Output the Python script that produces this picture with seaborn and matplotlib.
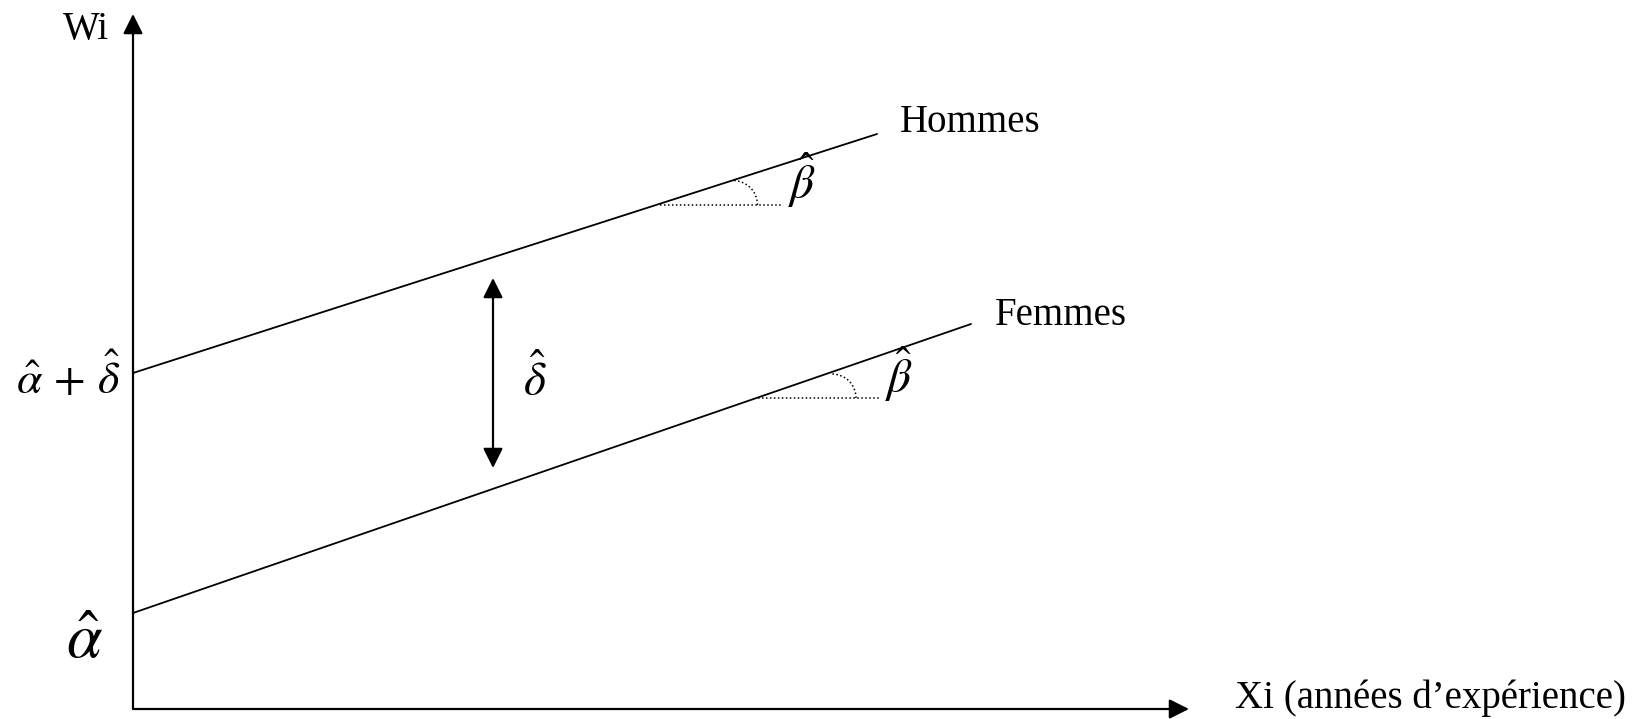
import numpy as np
import pandas as pd
import matplotlib
matplotlib.use("Agg")
import matplotlib.pyplot as plt
from matplotlib.patches import Arc
import seaborn as sns

# Droites estimées (x = années d'expérience, y = salaire), unités arbitraires
groupes = ["Hommes", "Femmes"]
x_debut = [0.0, 0.0]
x_fin = [7.44, 8.38]
y_debut = [3.36, 0.96]
y_fin = [5.75, 3.85]

# Angle beta : trait horizontal pointillé et centre de l'arc
beta_x0 = [5.27, 6.25]
beta_x1 = [6.50, 7.47]
beta_y = [5.04, 3.11]
arc_cx = [6.00, 6.99]
arc_r = [0.245, 0.24]

# Écart delta entre les deux droites
delta_x = 3.60
delta_bas = 2.41
delta_haut = 4.31

# Longueur des axes
axe_x_max = 10.56
axe_y_max = 6.95

sns.set_theme(style="white")
plt.rcParams["font.family"] = ["Liberation Serif", "DejaVu Serif"]
plt.rcParams["mathtext.fontset"] = "stix"
plt.rcParams["text.color"] = "black"

fig = plt.figure(figsize=(16.5, 7.19), dpi=100)
ax = fig.add_axes([0, 0, 1, 1])
ax.set_xlim(-1.33, 15.17)
ax.set_ylim(-0.10, 7.09)
ax.axis("off")

# Les deux droites
df = pd.DataFrame({
    "x": x_debut + x_fin,
    "y": y_debut + y_fin,
    "groupe": groupes + groupes,
})
sns.lineplot(data=df, x="x", y="y", units="groupe", estimator=None,
             color="black", lw=1.3, ax=ax, legend=False)

# Angles beta (pointillés)
for i in range(2):
    sns.lineplot(x=[beta_x0[i], beta_x1[i]], y=[beta_y[i], beta_y[i]],
                 color="black", lw=1.1, linestyle=(0, (1, 1.6)), ax=ax)
    ax.add_patch(Arc((arc_cx[i], beta_y[i]), 2 * arc_r[i], 2 * arc_r[i],
                     theta1=0, theta2=90, color="black", lw=1.1,
                     linestyle=(0, (1, 1.6))))

# Axes avec flèches
fleche = dict(arrowstyle="-|>,head_length=0.6,head_width=0.3", color="black",
              lw=1.6, shrinkA=0, shrinkB=0, mutation_scale=20)
ax.annotate("", xy=(0, axe_y_max), xytext=(0, 0), arrowprops=fleche)
ax.annotate("", xy=(axe_x_max, 0), xytext=(0, 0), arrowprops=fleche)

# Flèche double delta
double = dict(fleche, arrowstyle="<|-|>,head_length=0.6,head_width=0.3")
ax.annotate("", xy=(delta_x, delta_haut), xytext=(delta_x, delta_bas),
            arrowprops=double)

# Textes
ax.text(-0.24, 6.70, "Wi", fontsize=28, ha="right", va="baseline")
ax.text(7.67, 5.77, "Hommes", fontsize=28, ha="left", va="baseline")
ax.text(8.62, 3.84, "Femmes", fontsize=28, ha="left", va="baseline")
ax.text(11.02, 0.01, "Xi (années d\u2019expérience)", fontsize=28,
        ha="left", va="baseline")

ax.text(-0.13, 3.15, r"$\hat{\alpha}\,+\,\hat{\delta}$", fontsize=33,
        ha="right", va="baseline")
ax.text(-0.48, 0.51, r"$\hat{\alpha}$", fontsize=46, ha="center", va="baseline")
ax.text(4.02, 3.14, r"$\hat{\delta}$", fontsize=34, ha="center", va="baseline")
ax.text(6.69, 5.11, r"$\hat{\beta}$", fontsize=34, ha="center", va="baseline")
ax.text(7.66, 3.17, r"$\hat{\beta}$", fontsize=34, ha="center", va="baseline")

fig.savefig("out.png", dpi=100)
